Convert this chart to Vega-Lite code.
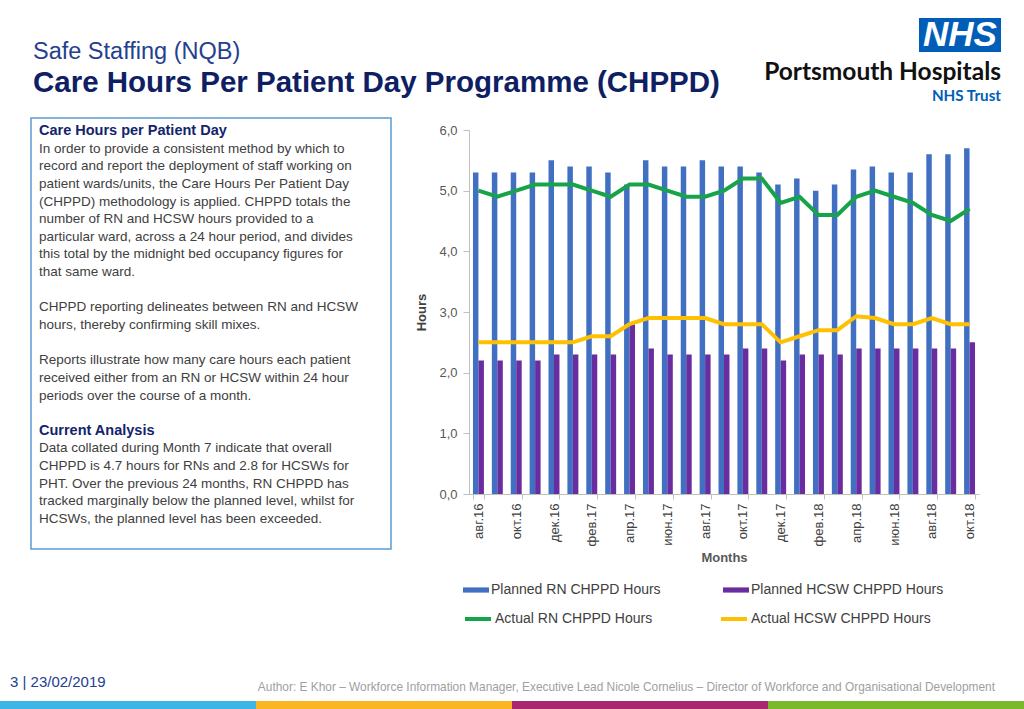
{
  "$schema": "https://vega.github.io/schema/vega-lite/v6.json",
  "background": "white",
  "padding": {"left": 0, "top": 18, "right": 0, "bottom": 0},
  "spacing": 0,
  "config": {
    "view": {"stroke": null},
    "font": "Liberation Sans",
    "concat": {"spacing": 0}
  },
  "datasets": {
    "chppd": [
      {"month": "авг.16", "series": "Planned RN CHPPD Hours", "hours": 5.3},
      {"month": "авг.16", "series": "Planned HCSW CHPPD Hours", "hours": 2.2},
      {"month": "авг.16", "series": "Actual RN CHPPD Hours", "hours": 5.0},
      {"month": "авг.16", "series": "Actual HCSW CHPPD Hours", "hours": 2.5},
      {"month": "сен.16", "series": "Planned RN CHPPD Hours", "hours": 5.3},
      {"month": "сен.16", "series": "Planned HCSW CHPPD Hours", "hours": 2.2},
      {"month": "сен.16", "series": "Actual RN CHPPD Hours", "hours": 4.9},
      {"month": "сен.16", "series": "Actual HCSW CHPPD Hours", "hours": 2.5},
      {"month": "окт.16", "series": "Planned RN CHPPD Hours", "hours": 5.3},
      {"month": "окт.16", "series": "Planned HCSW CHPPD Hours", "hours": 2.2},
      {"month": "окт.16", "series": "Actual RN CHPPD Hours", "hours": 5.0},
      {"month": "окт.16", "series": "Actual HCSW CHPPD Hours", "hours": 2.5},
      {"month": "ноя.16", "series": "Planned RN CHPPD Hours", "hours": 5.3},
      {"month": "ноя.16", "series": "Planned HCSW CHPPD Hours", "hours": 2.2},
      {"month": "ноя.16", "series": "Actual RN CHPPD Hours", "hours": 5.1},
      {"month": "ноя.16", "series": "Actual HCSW CHPPD Hours", "hours": 2.5},
      {"month": "дек.16", "series": "Planned RN CHPPD Hours", "hours": 5.5},
      {"month": "дек.16", "series": "Planned HCSW CHPPD Hours", "hours": 2.3},
      {"month": "дек.16", "series": "Actual RN CHPPD Hours", "hours": 5.1},
      {"month": "дек.16", "series": "Actual HCSW CHPPD Hours", "hours": 2.5},
      {"month": "янв.17", "series": "Planned RN CHPPD Hours", "hours": 5.4},
      {"month": "янв.17", "series": "Planned HCSW CHPPD Hours", "hours": 2.3},
      {"month": "янв.17", "series": "Actual RN CHPPD Hours", "hours": 5.1},
      {"month": "янв.17", "series": "Actual HCSW CHPPD Hours", "hours": 2.5},
      {"month": "фев.17", "series": "Planned RN CHPPD Hours", "hours": 5.4},
      {"month": "фев.17", "series": "Planned HCSW CHPPD Hours", "hours": 2.3},
      {"month": "фев.17", "series": "Actual RN CHPPD Hours", "hours": 5.0},
      {"month": "фев.17", "series": "Actual HCSW CHPPD Hours", "hours": 2.6},
      {"month": "мар.17", "series": "Planned RN CHPPD Hours", "hours": 5.3},
      {"month": "мар.17", "series": "Planned HCSW CHPPD Hours", "hours": 2.3},
      {"month": "мар.17", "series": "Actual RN CHPPD Hours", "hours": 4.9},
      {"month": "мар.17", "series": "Actual HCSW CHPPD Hours", "hours": 2.6},
      {"month": "апр.17", "series": "Planned RN CHPPD Hours", "hours": 5.1},
      {"month": "апр.17", "series": "Planned HCSW CHPPD Hours", "hours": 2.8},
      {"month": "апр.17", "series": "Actual RN CHPPD Hours", "hours": 5.1},
      {"month": "апр.17", "series": "Actual HCSW CHPPD Hours", "hours": 2.8},
      {"month": "май.17", "series": "Planned RN CHPPD Hours", "hours": 5.5},
      {"month": "май.17", "series": "Planned HCSW CHPPD Hours", "hours": 2.4},
      {"month": "май.17", "series": "Actual RN CHPPD Hours", "hours": 5.1},
      {"month": "май.17", "series": "Actual HCSW CHPPD Hours", "hours": 2.9},
      {"month": "июн.17", "series": "Planned RN CHPPD Hours", "hours": 5.4},
      {"month": "июн.17", "series": "Planned HCSW CHPPD Hours", "hours": 2.3},
      {"month": "июн.17", "series": "Actual RN CHPPD Hours", "hours": 5.0},
      {"month": "июн.17", "series": "Actual HCSW CHPPD Hours", "hours": 2.9},
      {"month": "июл.17", "series": "Planned RN CHPPD Hours", "hours": 5.4},
      {"month": "июл.17", "series": "Planned HCSW CHPPD Hours", "hours": 2.3},
      {"month": "июл.17", "series": "Actual RN CHPPD Hours", "hours": 4.9},
      {"month": "июл.17", "series": "Actual HCSW CHPPD Hours", "hours": 2.9},
      {"month": "авг.17", "series": "Planned RN CHPPD Hours", "hours": 5.5},
      {"month": "авг.17", "series": "Planned HCSW CHPPD Hours", "hours": 2.3},
      {"month": "авг.17", "series": "Actual RN CHPPD Hours", "hours": 4.9},
      {"month": "авг.17", "series": "Actual HCSW CHPPD Hours", "hours": 2.9},
      {"month": "сен.17", "series": "Planned RN CHPPD Hours", "hours": 5.4},
      {"month": "сен.17", "series": "Planned HCSW CHPPD Hours", "hours": 2.3},
      {"month": "сен.17", "series": "Actual RN CHPPD Hours", "hours": 5.0},
      {"month": "сен.17", "series": "Actual HCSW CHPPD Hours", "hours": 2.8},
      {"month": "окт.17", "series": "Planned RN CHPPD Hours", "hours": 5.4},
      {"month": "окт.17", "series": "Planned HCSW CHPPD Hours", "hours": 2.4},
      {"month": "окт.17", "series": "Actual RN CHPPD Hours", "hours": 5.2},
      {"month": "окт.17", "series": "Actual HCSW CHPPD Hours", "hours": 2.8},
      {"month": "ноя.17", "series": "Planned RN CHPPD Hours", "hours": 5.3},
      {"month": "ноя.17", "series": "Planned HCSW CHPPD Hours", "hours": 2.4},
      {"month": "ноя.17", "series": "Actual RN CHPPD Hours", "hours": 5.2},
      {"month": "ноя.17", "series": "Actual HCSW CHPPD Hours", "hours": 2.8},
      {"month": "дек.17", "series": "Planned RN CHPPD Hours", "hours": 5.1},
      {"month": "дек.17", "series": "Planned HCSW CHPPD Hours", "hours": 2.2},
      {"month": "дек.17", "series": "Actual RN CHPPD Hours", "hours": 4.8},
      {"month": "дек.17", "series": "Actual HCSW CHPPD Hours", "hours": 2.5},
      {"month": "янв.18", "series": "Planned RN CHPPD Hours", "hours": 5.2},
      {"month": "янв.18", "series": "Planned HCSW CHPPD Hours", "hours": 2.3},
      {"month": "янв.18", "series": "Actual RN CHPPD Hours", "hours": 4.9},
      {"month": "янв.18", "series": "Actual HCSW CHPPD Hours", "hours": 2.6},
      {"month": "фев.18", "series": "Planned RN CHPPD Hours", "hours": 5.0},
      {"month": "фев.18", "series": "Planned HCSW CHPPD Hours", "hours": 2.3},
      {"month": "фев.18", "series": "Actual RN CHPPD Hours", "hours": 4.6},
      {"month": "фев.18", "series": "Actual HCSW CHPPD Hours", "hours": 2.7},
      {"month": "мар.18", "series": "Planned RN CHPPD Hours", "hours": 5.1},
      {"month": "мар.18", "series": "Planned HCSW CHPPD Hours", "hours": 2.3},
      {"month": "мар.18", "series": "Actual RN CHPPD Hours", "hours": 4.6},
      {"month": "мар.18", "series": "Actual HCSW CHPPD Hours", "hours": 2.7},
      {"month": "апр.18", "series": "Planned RN CHPPD Hours", "hours": 5.35},
      {"month": "апр.18", "series": "Planned HCSW CHPPD Hours", "hours": 2.4},
      {"month": "апр.18", "series": "Actual RN CHPPD Hours", "hours": 4.9},
      {"month": "апр.18", "series": "Actual HCSW CHPPD Hours", "hours": 2.93},
      {"month": "май.18", "series": "Planned RN CHPPD Hours", "hours": 5.4},
      {"month": "май.18", "series": "Planned HCSW CHPPD Hours", "hours": 2.4},
      {"month": "май.18", "series": "Actual RN CHPPD Hours", "hours": 5.0},
      {"month": "май.18", "series": "Actual HCSW CHPPD Hours", "hours": 2.9},
      {"month": "июн.18", "series": "Planned RN CHPPD Hours", "hours": 5.3},
      {"month": "июн.18", "series": "Planned HCSW CHPPD Hours", "hours": 2.4},
      {"month": "июн.18", "series": "Actual RN CHPPD Hours", "hours": 4.9},
      {"month": "июн.18", "series": "Actual HCSW CHPPD Hours", "hours": 2.8},
      {"month": "июл.18", "series": "Planned RN CHPPD Hours", "hours": 5.3},
      {"month": "июл.18", "series": "Planned HCSW CHPPD Hours", "hours": 2.4},
      {"month": "июл.18", "series": "Actual RN CHPPD Hours", "hours": 4.8},
      {"month": "июл.18", "series": "Actual HCSW CHPPD Hours", "hours": 2.8},
      {"month": "авг.18", "series": "Planned RN CHPPD Hours", "hours": 5.6},
      {"month": "авг.18", "series": "Planned HCSW CHPPD Hours", "hours": 2.4},
      {"month": "авг.18", "series": "Actual RN CHPPD Hours", "hours": 4.6},
      {"month": "авг.18", "series": "Actual HCSW CHPPD Hours", "hours": 2.9},
      {"month": "сен.18", "series": "Planned RN CHPPD Hours", "hours": 5.6},
      {"month": "сен.18", "series": "Planned HCSW CHPPD Hours", "hours": 2.4},
      {"month": "сен.18", "series": "Actual RN CHPPD Hours", "hours": 4.5},
      {"month": "сен.18", "series": "Actual HCSW CHPPD Hours", "hours": 2.8},
      {"month": "окт.18", "series": "Planned RN CHPPD Hours", "hours": 5.7},
      {"month": "окт.18", "series": "Planned HCSW CHPPD Hours", "hours": 2.5},
      {"month": "окт.18", "series": "Actual RN CHPPD Hours", "hours": 4.7},
      {"month": "окт.18", "series": "Actual HCSW CHPPD Hours", "hours": 2.8}
    ],
    "panel": [
      {"line": 0, "kind": "heading", "text": "Care Hours per Patient Day"},
      {"line": 1, "kind": "body", "text": "In order to provide a consistent method by which to"},
      {"line": 2, "kind": "body", "text": "record and report the deployment of staff working on"},
      {"line": 3, "kind": "body", "text": "patient wards/units, the Care Hours Per Patient Day"},
      {"line": 4, "kind": "body", "text": "(CHPPD) methodology is applied. CHPPD totals the"},
      {"line": 5, "kind": "body", "text": "number of RN and HCSW hours provided to a"},
      {"line": 6, "kind": "body", "text": "particular ward, across a 24 hour period, and divides"},
      {"line": 7, "kind": "body", "text": "this total by the midnight bed occupancy figures for"},
      {"line": 8, "kind": "body", "text": "that same ward."},
      {"line": 10, "kind": "body", "text": "CHPPD reporting delineates between RN and HCSW"},
      {"line": 11, "kind": "body", "text": "hours, thereby confirming skill mixes."},
      {"line": 13, "kind": "body", "text": "Reports illustrate how many care hours each patient"},
      {"line": 14, "kind": "body", "text": "received either from an RN or HCSW within 24 hour"},
      {"line": 15, "kind": "body", "text": "periods over the course of a month."},
      {"line": 17, "kind": "heading", "text": "Current Analysis"},
      {"line": 18, "kind": "body", "text": "Data collated during Month 7 indicate that overall"},
      {"line": 19, "kind": "body", "text": "CHPPD is 4.7 hours for RNs and 2.8 for HCSWs for"},
      {"line": 20, "kind": "body", "text": "PHT. Over the previous 24 months, RN CHPPD has"},
      {"line": 21, "kind": "body", "text": "tracked marginally below the planned level, whilst for"},
      {"line": 22, "kind": "body", "text": "HCSWs, the planned level has been exceeded."}
    ],
    "footer": [
      {"band": "a", "role": "stripe"},
      {"band": "b", "role": "stripe"},
      {"band": "c", "role": "stripe"},
      {"band": "d", "role": "stripe"},
      {"band": "a", "role": "date", "label": "3 | 23/02/2019"},
      {"band": "d", "role": "author", "label": "Author: E Khor – Workforce Information Manager, Executive Lead Nicole Cornelius – Director of Workforce and Organisational Development"}
    ]
  },
  "vconcat": [
    {
      "spacing": 19,
      "hconcat": [
        {
          "width": 745,
          "height": 1,
          "data": {"values": [{}]},
          "mark": {"type": "rect", "opacity": 0},
          "encoding": {},
          "title": {
            "text": "Safe Staffing (NQB)",
            "subtitle": "Care Hours Per Patient Day Programme (CHPPD)",
            "orient": "bottom",
            "anchor": "start",
            "offset": 21,
            "dx": 33,
            "font": "Liberation Sans",
            "fontSize": 23.5,
            "fontWeight": "normal",
            "color": "#24408E",
            "subtitleFont": "Liberation Sans",
            "subtitleFontSize": 29.5,
            "subtitleFontWeight": "bold",
            "subtitleColor": "#0E2063",
            "subtitlePadding": 5
          }
        },
        {
          "width": 82,
          "height": 34,
          "data": {"values": [{"brand": "NHS"}]},
          "layer": [
            {"mark": {"type": "rect", "color": "#005EB8"}, "encoding": {}},
            {
              "mark": {"type": "text", "color": "white", "font": "Liberation Sans", "fontSize": 35, "fontWeight": "bold", "fontStyle": "italic", "baseline": "middle", "align": "center"},
              "encoding": {"text": {"field": "brand"}}
            }
          ],
          "title": {
            "text": "Portsmouth Hospitals",
            "subtitle": "NHS Trust",
            "orient": "bottom",
            "anchor": "end",
            "offset": 8,
            "font": "Lato",
            "fontSize": 24.5,
            "fontWeight": "bold",
            "color": "#111111",
            "subtitleFont": "Lato",
            "subtitleFontSize": 15.2,
            "subtitleFontWeight": "bold",
            "subtitleColor": "#005EB8",
            "subtitlePadding": 3
          }
        }
      ]
    },
    {
      "width": 1,
      "height": 13,
      "data": {"values": [{}]},
      "mark": {"type": "rect", "opacity": 0},
      "encoding": {}
    },
    {
      "spacing": 23,
      "hconcat": [
        {
          "width": 7,
          "height": 1,
          "data": {"values": [{}]},
          "mark": {"type": "rect", "opacity": 0},
          "encoding": {}
        },
        {
          "width": 360,
          "height": 431,
          "view": {"stroke": "#5B9BD5", "strokeWidth": 1.5},
          "data": {"name": "panel"},
          "encoding": {
            "x": {"datum": 0, "type": "quantitative", "scale": {"domain": [0, 360], "nice": false, "zero": false}, "axis": null},
            "y": {"field": "line", "type": "quantitative", "scale": {"domain": [-0.737, 23.7], "reverse": true, "nice": false, "zero": false}, "axis": null},
            "text": {"field": "text"}
          },
          "layer": [
            {
              "transform": [{"filter": "datum.kind === 'heading'"}],
              "mark": {"type": "text", "align": "left", "baseline": "middle", "dx": 8, "fontSize": 14.5, "fontWeight": "bold", "color": "#12246B"}
            },
            {
              "transform": [{"filter": "datum.kind === 'body'"}],
              "mark": {"type": "text", "align": "left", "baseline": "middle", "dx": 8, "fontSize": 13.5, "color": "#404040"}
            }
          ]
        },
        {
          "spacing": 0,
          "vconcat": [
            {
              "width": 1,
              "height": 6,
              "data": {"values": [{}]},
              "mark": {"type": "rect", "opacity": 0},
              "encoding": {}
            },
            {
              "width": 510,
              "height": 364,
              "data": {"name": "chppd"},
              "encoding": {
                "x": {
                  "field": "month",
                  "type": "ordinal",
                  "sort": ["авг.16","сен.16","окт.16","ноя.16","дек.16","янв.17","фев.17","мар.17","апр.17","май.17","июн.17","июл.17","авг.17","сен.17","окт.17","ноя.17","дек.17","янв.18","фев.18","мар.18","апр.18","май.18","июн.18","июл.18","авг.18","сен.18","окт.18"],
                  "scale": {"paddingInner": 0.42, "paddingOuter": 0.21},
                  "axis": {
                    "values": ["авг.16","окт.16","дек.16","фев.17","апр.17","июн.17","авг.17","окт.17","дек.17","фев.18","апр.18","июн.18","авг.18","окт.18"],
                    "labelAngle": -90,
                    "labelFontSize": 13,
                    "labelColor": "#404040",
                    "labelPadding": 4,
                    "tickBand": "extent",
                    "tickSize": 5,
                    "tickColor": "#BFBFBF",
                    "domainColor": "#BFBFBF",
                    "title": "Months",
                    "titleFontSize": 13,
                    "titleFontWeight": "bold",
                    "titleColor": "#595959",
                    "titlePadding": 6,
                    "grid": false
                  }
                },
                "y": {
                  "field": "hours",
                  "type": "quantitative",
                  "scale": {"domain": [0, 6], "nice": false},
                  "axis": {
                    "title": "Hours",
                    "titleFontSize": 13,
                    "titleFontWeight": "bold",
                    "titleColor": "#404040",
                    "titlePadding": 10,
                    "values": [0, 1, 2, 3, 4, 5, 6],
                    "labelExpr": "replace(format(datum.value, '.1f'), '.', ',')",
                    "labelFontSize": 13,
                    "labelColor": "#595959",
                    "labelPadding": 6,
                    "tickSize": 6,
                    "tickColor": "#BFBFBF",
                    "domainColor": "#BFBFBF",
                    "grid": false
                  }
                }
              },
              "layer": [
                {
                  "transform": [{"filter": {"field": "series", "oneOf": ["Planned RN CHPPD Hours", "Planned HCSW CHPPD Hours"]}}],
                  "mark": {"type": "bar"},
                  "encoding": {
                    "xOffset": {"field": "series", "type": "nominal", "sort": ["Planned RN CHPPD Hours", "Planned HCSW CHPPD Hours"], "scale": {"paddingInner": 0, "paddingOuter": 0}},
                    "fill": {
                      "field": "series",
                      "type": "nominal",
                      "scale": {
                        "domain": ["Planned RN CHPPD Hours", "Planned HCSW CHPPD Hours"],
                        "range": ["#4170C2", "#6A2D9F"]
                      },
                      "legend": {
                        "orient": "none",
                        "legendX": 463,
                        "legendY": 559,
                        "direction": "horizontal",
                        "columns": 2,
                        "columnPadding": 62,
                        "title": null,
                        "symbolType": "M-1,-0.2H1V0.2H-1Z",
                        "symbolSize": 676,
                        "symbolStrokeWidth": 0,
                        "labelFontSize": 14,
                        "labelColor": "#404040",
                        "labelOffset": 2,
                        "labelLimit": 300
                      }
                    }
                  }
                },
                {
                  "transform": [{"filter": {"field": "series", "oneOf": ["Actual RN CHPPD Hours", "Actual HCSW CHPPD Hours"]}}],
                  "mark": {"type": "line", "strokeWidth": 4},
                  "encoding": {
                    "stroke": {
                      "field": "series",
                      "type": "nominal",
                      "scale": {"domain": ["Actual RN CHPPD Hours", "Actual HCSW CHPPD Hours"], "range": ["#17A34A", "#FFC000"]},
                      "legend": {
                        "orient": "none",
                        "legendX": 463,
                        "legendY": 586,
                        "direction": "horizontal",
                        "columns": 2,
                        "columnPadding": 60,
                        "title": null,
                        "symbolType": "stroke",
                        "symbolSize": 676,
                        "symbolStrokeWidth": 4,
                        "labelFontSize": 14,
                        "labelColor": "#404040",
                        "labelOffset": 2,
                        "labelLimit": 300
                      }
                    }
                  }
                }
              ]
            }
          ]
        }
      ]
    },
    {
      "width": 1,
      "height": 110,
      "data": {"values": [{}]},
      "mark": {"type": "rect", "opacity": 0},
      "encoding": {}
    },
    {
      "width": 1024,
      "height": 9,
      "data": {"name": "footer"},
      "encoding": {
        "x": {"field": "band", "type": "nominal", "scale": {"paddingInner": 0, "paddingOuter": 0}, "axis": null}
      },
      "layer": [
        {
          "transform": [{"filter": "datum.role === 'stripe'"}],
          "mark": {"type": "rect"},
          "encoding": {
            "color": {"field": "band", "type": "nominal", "scale": {"range": ["#3DB5E6", "#FBB520", "#A9276F", "#7AB929"]}, "legend": null}
          }
        },
        {
          "transform": [{"filter": "datum.role === 'date'"}],
          "mark": {"type": "text", "align": "left", "baseline": "middle", "dx": 10, "dy": -23.5, "fontSize": 15, "color": "#24408E"},
          "encoding": {
            "x": {"field": "band", "type": "nominal", "bandPosition": 0},
            "text": {"field": "label"}
          }
        },
        {
          "transform": [{"filter": "datum.role === 'author'"}],
          "mark": {"type": "text", "align": "right", "baseline": "middle", "dx": -29, "dy": -18.5, "fontSize": 11.9, "color": "#A0A0A0"},
          "encoding": {
            "x": {"field": "band", "type": "nominal", "bandPosition": 1},
            "text": {"field": "label"}
          }
        }
      ]
    }
  ]
}
